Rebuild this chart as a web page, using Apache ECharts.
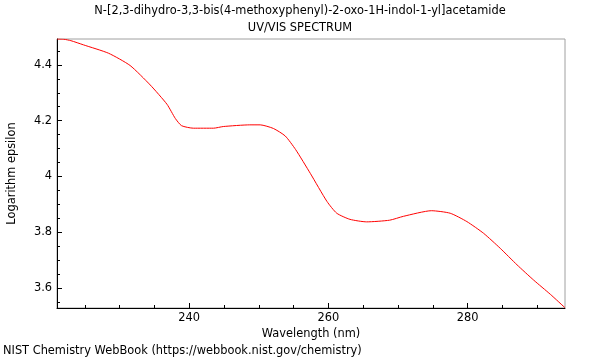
<!DOCTYPE html>
<html><head><meta charset="utf-8">
<script src="https://cdn.jsdelivr.net/npm/echarts@6/dist/echarts.min.js"></script>
<style>html,body{margin:0;padding:0;background:#fff}#c{width:600px;height:360px}</style>
</head><body><div id="c"></div>
<script>
const titleText = "N-[2,3-dihydro-3,3-bis(4-methoxyphenyl)-2-oxo-1H-indol-1-yl]acetamide";
const subTitle = "UV/VIS SPECTRUM";
const footer = "NIST Chemistry WebBook (https://webbook.nist.gov/chemistry)";
const xName = "Wavelength (nm)";
const yName = "Logarithm epsilon";
const wavelengths = [221, 222, 223, 224.8, 228.4, 231.5, 234.4, 236.8, 238.0, 238.9, 240.6, 243.5, 244.9, 248.7, 250.2, 252.1, 253.8, 255.3, 257.4, 259.8, 261.2, 263.1, 265.5, 268.8, 270.8, 274.8, 277.5, 279.9, 282.3, 284.7, 287.1, 289.5, 291.9, 294.0];
const logEps = [4.493, 4.492, 4.487, 4.472, 4.442, 4.398, 4.328, 4.259, 4.208, 4.182, 4.173, 4.173, 4.179, 4.185, 4.185, 4.172, 4.145, 4.096, 4.011, 3.910, 3.868, 3.846, 3.837, 3.843, 3.857, 3.877, 3.868, 3.838, 3.796, 3.742, 3.683, 3.628, 3.577, 3.529];
const xMajor = [240, 260, 280];
const xMinor = [225, 230, 235, 245, 250, 255, 265, 270, 275, 285, 290];
const yMajor = [3.6, 3.8, 4.0, 4.2, 4.4];
const yMinor = [3.55, 3.65, 3.7, 3.75, 3.85, 3.9, 3.95, 4.05, 4.1, 4.15, 4.25, 4.3, 4.35, 4.45];
const xRange = [221, 294];
const yRange = [3.528, 4.493];

const font = "DejaVu Sans";
const fs = 11.4;
const chart = echarts.init(document.getElementById('c'), null, {renderer: 'canvas'});
const baseX = {type: 'value', min: xRange[0], max: xRange[1], position: 'bottom', splitLine: {show: false}};
const baseY = {type: 'value', min: yRange[0], max: yRange[1], position: 'left', splitLine: {show: false}};
const ts = {fontSize: fs, fontWeight: 'normal', color: '#000', fontFamily: font};
chart.setOption({
  animation: false,
  textStyle: {fontFamily: font},
  title: [
    {text: titleText, left: 'center', top: 6, padding: 0, textStyle: ts},
    {text: subTitle, left: 'center', top: 23, padding: 0, textStyle: ts},
    {text: footer, left: 3, top: 346, padding: 0, textStyle: ts}
  ],
  grid: {left: 57, right: 35, top: 39, bottom: 52, show: true, borderColor: '#a0a0a0', borderWidth: 1,
         containLabel: false, outerBoundsMode: 'none'},
  xAxis: [
    Object.assign({}, baseX, {
      name: xName, nameLocation: 'middle', nameGap: 20,
      nameTextStyle: {fontSize: fs, color: '#000', fontFamily: font},
      axisLine: {show: true, onZero: false, lineStyle: {color: '#000'}},
      axisTick: {show: true, inside: true, length: 5, customValues: xMajor, lineStyle: {color: '#000'}},
      axisLabel: {customValues: xMajor, fontSize: fs, color: '#000', fontFamily: font, margin: 5}
    }),
    Object.assign({}, baseX, {
      axisLine: {show: false, onZero: false},
      axisTick: {show: true, inside: true, length: 3, customValues: xMinor, lineStyle: {color: '#000'}},
      axisLabel: {show: false}
    })
  ],
  yAxis: [
    Object.assign({}, baseY, {
      name: yName, nameLocation: 'middle', nameGap: 39.5, nameRotate: 90,
      nameTextStyle: {fontSize: fs, color: '#000', fontFamily: font},
      axisLine: {show: true, onZero: false, lineStyle: {color: '#000'}},
      axisTick: {show: true, inside: true, length: 5, customValues: yMajor, lineStyle: {color: '#000'}},
      axisLabel: {customValues: yMajor, fontSize: fs, color: '#000', fontFamily: font, margin: 5,
        formatter: v => (Math.abs(v - 4) < 1e-9 ? '4' : v.toFixed(1))}
    }),
    Object.assign({}, baseY, {
      axisLine: {show: false, onZero: false},
      axisTick: {show: true, inside: true, length: 3, customValues: yMinor, lineStyle: {color: '#000'}},
      axisLabel: {show: false}
    })
  ],
  series: [{
    type: 'line',
    xAxisIndex: 0, yAxisIndex: 0,
    data: wavelengths.map((w, i) => [w, logEps[i]]),
    showSymbol: false,
    smooth: 0.2,
    lineStyle: {color: '#ff0000', width: 1},
    clip: true
  }]
});
</script></body></html>
